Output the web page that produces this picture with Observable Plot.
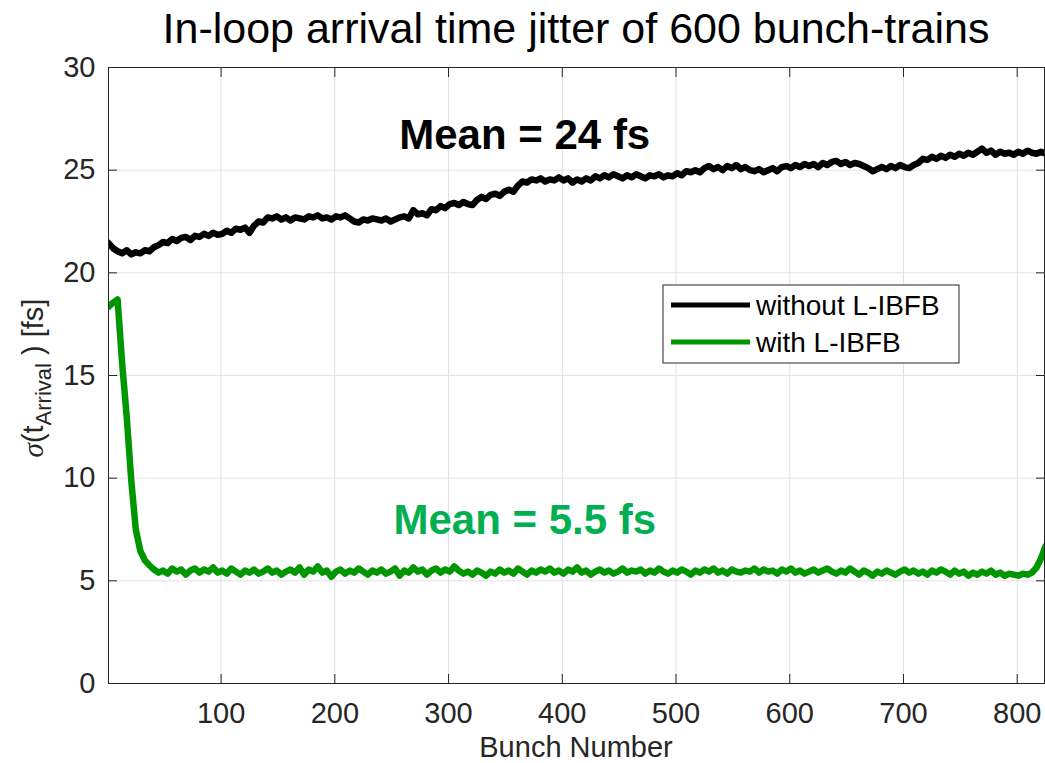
<!DOCTYPE html>
<html><head><meta charset="utf-8">
<script src="https://cdn.jsdelivr.net/npm/d3@7"></script>
<script src="https://cdn.jsdelivr.net/npm/@observablehq/plot@0.6"></script>
<style>body{margin:0;background:#fff}</style>
</head><body><div id="chart"></div>
<script>
// Bunch index: first bunch and sampling step of the values
const bunchStart = 1;
const bunchStep = 4;

// sigma(t_Arrival) [fs] without L-IBFB (black)
const withoutLIBFB = [
21.45,21.2,21.05,20.95,21.1,20.9,21.0,20.95,21.1,21.05,
21.25,21.35,21.5,21.45,21.65,21.55,21.7,21.75,21.6,21.8,
21.75,21.9,21.8,21.95,21.85,21.9,22.05,21.95,22.15,22.1,
22.2,21.95,22.3,22.5,22.45,22.7,22.65,22.75,22.6,22.7,
22.55,22.7,22.65,22.6,22.75,22.7,22.8,22.65,22.7,22.6,
22.75,22.7,22.8,22.65,22.5,22.45,22.6,22.55,22.65,22.6,
22.55,22.65,22.5,22.6,22.7,22.75,22.65,23.05,22.85,22.9,
22.8,23.1,23.05,23.25,23.15,23.35,23.4,23.3,23.45,23.35,
23.3,23.55,23.7,23.6,23.8,23.85,23.75,23.95,24.05,23.95,
24.25,24.45,24.4,24.55,24.5,24.6,24.45,24.55,24.5,24.65,
24.5,24.6,24.4,24.55,24.45,24.6,24.5,24.7,24.6,24.75,
24.65,24.8,24.7,24.6,24.75,24.65,24.8,24.7,24.6,24.75,
24.7,24.8,24.65,24.75,24.7,24.85,24.75,24.95,24.9,25.0,
24.9,25.1,25.2,25.05,25.15,25.0,25.2,25.1,25.25,25.05,
25.15,25.0,24.95,25.05,24.9,25.0,25.1,24.95,25.15,25.2,
25.1,25.25,25.15,25.3,25.2,25.3,25.15,25.35,25.25,25.4,
25.45,25.3,25.4,25.25,25.35,25.3,25.2,25.1,24.95,25.05,
25.15,25.05,25.2,25.1,25.25,25.15,25.1,25.25,25.35,25.55,
25.5,25.65,25.55,25.7,25.6,25.75,25.65,25.8,25.7,25.85,
25.75,25.9,26.05,25.85,25.95,25.75,25.9,25.8,25.85,25.75,
25.9,25.8,25.95,25.85,25.8,25.9,25.8
];

// sigma(t_Arrival) [fs] with L-IBFB (green)
const withLIBFB = [
18.35,18.55,18.7,15.6,13.0,9.9,7.5,6.45,6.0,5.75,
5.55,5.4,5.5,5.35,5.6,5.45,5.55,5.3,5.5,5.6,
5.4,5.55,5.45,5.65,5.4,5.5,5.35,5.6,5.45,5.3,
5.5,5.4,5.55,5.35,5.45,5.6,5.4,5.5,5.3,5.45,
5.55,5.4,5.65,5.3,5.55,5.45,5.7,5.4,5.5,5.2,
5.45,5.55,5.35,5.5,5.4,5.6,5.45,5.3,5.5,5.4,
5.55,5.35,5.45,5.6,5.25,5.5,5.4,5.65,5.45,5.55,
5.3,5.5,5.6,5.4,5.55,5.45,5.7,5.5,5.35,5.45,
5.3,5.5,5.4,5.25,5.45,5.35,5.55,5.4,5.5,5.35,
5.6,5.45,5.3,5.5,5.4,5.55,5.45,5.6,5.4,5.5,
5.35,5.55,5.45,5.65,5.4,5.5,5.3,5.45,5.55,5.4,
5.5,5.35,5.45,5.6,5.4,5.5,5.45,5.55,5.35,5.5,
5.4,5.6,5.45,5.35,5.5,5.4,5.55,5.45,5.3,5.5,
5.4,5.55,5.45,5.6,5.4,5.5,5.35,5.55,5.45,5.4,
5.5,5.45,5.6,5.4,5.55,5.45,5.5,5.35,5.55,5.45,
5.6,5.4,5.5,5.35,5.45,5.55,5.4,5.5,5.6,5.45,
5.35,5.5,5.4,5.6,5.45,5.3,5.5,5.4,5.25,5.45,
5.35,5.5,5.4,5.3,5.45,5.55,5.4,5.5,5.35,5.45,
5.3,5.5,5.4,5.55,5.45,5.3,5.5,5.35,5.45,5.25,
5.4,5.3,5.45,5.35,5.5,5.3,5.4,5.25,5.35,5.3,
5.25,5.35,5.3,5.4,5.65,6.1,6.7
];

const seriesNames = ["without L-IBFB", "with L-IBFB"];
const seriesColors = ["#000000", "#009600"];
const xTicks = [100, 200, 300, 400, 500, 600, 700, 800];
const yTicks = [0, 5, 10, 15, 20, 25, 30];
const xDomain = [1, 824];
const yDomain = [0, 30];
const annotations = [
  {bunch: 367, value: 26.7, label: "Mean = 24 fs", color: "#000000"},
  {bunch: 367, value: 7.95, label: "Mean = 5.5 fs", color: "#00b050"}
];
const titleText = "In-loop arrival time jitter of 600 bunch-trains";
const xLabelText = "Bunch Number";

const rows = [];
withoutLIBFB.forEach((v, i) => rows.push({bunch: bunchStart + i * bunchStep, value: v, series: seriesNames[0]}));
withLIBFB.forEach((v, i) => rows.push({bunch: bunchStart + i * bunchStep, value: v, series: seriesNames[1]}));

const FONT = "'Liberation Sans', Arial, Helvetica, sans-serif";
const W = 1045, H = 763, mL = 108, mR = 1, mT = 67, mB = 80;
const AX = "#262626";

const plot = Plot.plot({
  width: W, height: H,
  marginLeft: mL, marginRight: mR, marginTop: mT, marginBottom: mB,
  style: {fontFamily: FONT, fontSize: "29px", color: AX, background: "#fff", overflow: "visible"},
  x: {domain: xDomain},
  y: {domain: yDomain},
  color: {domain: seriesNames, range: seriesColors},
  marks: [
    Plot.gridX(xTicks, {stroke: "#e1e1e1", strokeOpacity: 1}),
    Plot.gridY(yTicks, {stroke: "#e1e1e1", strokeOpacity: 1}),
    Plot.line(rows, {x: "bunch", y: "value", z: "series", stroke: "series", strokeWidth: 6.5,
      strokeLinejoin: "round", strokeLinecap: "round", clip: true}),
    Plot.text([annotations[0]], {x: "bunch", y: "value", text: "label", fill: annotations[0].color,
      fontSize: 42, fontWeight: "bold", textAnchor: "middle"}),
    Plot.text([annotations[1]], {x: "bunch", y: "value", text: "label", fill: annotations[1].color,
      fontSize: 42, fontWeight: "bold", textAnchor: "middle"}),
    Plot.frame({stroke: AX}),
    Plot.axisX(xTicks, {anchor: "bottom", tickSize: -9, tickPadding: 28, label: null}),
    Plot.axisX(xTicks, {anchor: "top", tickSize: -9, fill: "none", label: null}),
    Plot.axisY(yTicks, {anchor: "left", tickSize: -9, tickPadding: 22, label: null}),
    Plot.axisY(yTicks, {anchor: "right", tickSize: -9, fill: "none", label: null})
  ]
});

const svg = d3.select(plot);
const cx = (mL + W - mR) / 2;

// Title
svg.append("text").attr("x", cx).attr("y", 43).attr("text-anchor", "middle")
  .attr("font-family", FONT).attr("font-size", 43).attr("fill", "#000").text(titleText);

// X label
svg.append("text").attr("x", cx).attr("y", 757).attr("text-anchor", "middle")
  .attr("font-family", FONT).attr("font-size", 29).attr("fill", AX).text(xLabelText);

// Y label with subscript
const yl = svg.append("text").attr("transform", `translate(43,${(mT + H - mB) / 2 + 3}) rotate(-90)`)
  .attr("text-anchor", "middle").attr("font-family", FONT).attr("font-size", 29).attr("fill", AX);
yl.append("tspan").attr("font-style", "italic").attr("font-family", "'Liberation Serif', serif").text("σ");
yl.append("tspan").text("(t");
yl.append("tspan").attr("font-size", 22).attr("dy", 8).text("Arrival");
yl.append("tspan").attr("dy", -8).text(" ) [fs]");

// Legend
const lg = svg.append("g").attr("transform", "translate(663,285)");
lg.append("rect").attr("width", 296).attr("height", 78).attr("fill", "#fff").attr("stroke", AX).attr("stroke-width", 1);
seriesNames.forEach((name, i) => {
  const yy = 20 + i * 37;
  lg.append("line").attr("x1", 8).attr("x2", 87).attr("y1", yy).attr("y2", yy)
    .attr("stroke", seriesColors[i]).attr("stroke-width", 5);
  lg.append("text").attr("x", 93).attr("y", yy + 10).attr("text-anchor", "start").attr("font-family", FONT)
    .attr("font-size", 28).attr("fill", "#000").text(name);
});

document.getElementById("chart").appendChild(plot);
</script>
</body></html>
